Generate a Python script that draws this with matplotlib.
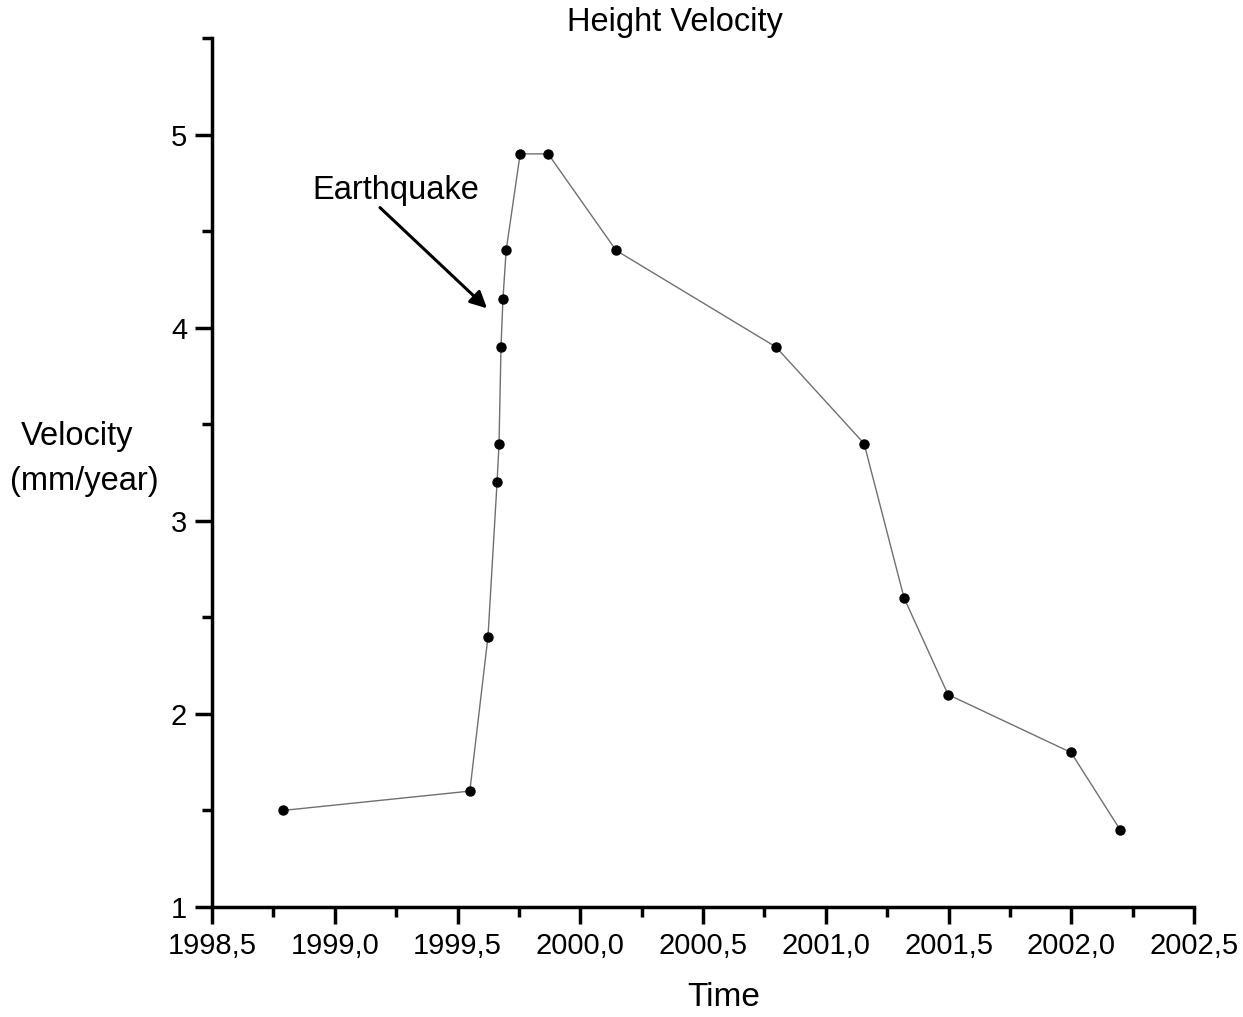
import numpy as np
import matplotlib
matplotlib.use('Agg')
import matplotlib.pyplot as plt
from matplotlib.ticker import MultipleLocator, FuncFormatter

plt.rcParams['font.family'] = ['Liberation Sans', 'DejaVu Sans']

# Height velocity measurements
time = [1998.79, 1999.55, 1999.624, 1999.661, 1999.669, 1999.677, 1999.685,
        1999.698, 1999.755, 1999.869, 2000.146, 2000.797, 2001.156, 2001.319,
        2001.498, 2001.999, 2002.199]
velocity = [1.5, 1.6, 2.4, 3.2, 3.4, 3.9, 4.15, 4.4, 4.9, 4.9, 4.4, 3.9, 3.4,
            2.6, 2.1, 1.8, 1.4]

fig = plt.figure(figsize=(12.43, 10.17), dpi=100)
ax = fig.add_axes([0.1706, 0.1082, 0.79, 0.8544])

ax.plot(time, velocity, '-', color='#707070', linewidth=1.0, zorder=2)
ax.plot(time, velocity, 'o', color='black', markersize=6.5, zorder=3)

ax.set_xlim(1998.5, 2002.5)
ax.set_ylim(1, 5.5)

ax.spines['top'].set_visible(False)
ax.spines['right'].set_visible(False)
ax.spines['left'].set_linewidth(2.5)
ax.spines['bottom'].set_linewidth(2.5)

ax.xaxis.set_major_locator(MultipleLocator(0.5))
ax.xaxis.set_minor_locator(MultipleLocator(0.25))
ax.yaxis.set_major_locator(MultipleLocator(1))
ax.yaxis.set_minor_locator(MultipleLocator(0.5))
ax.xaxis.set_major_formatter(FuncFormatter(lambda v, p: f"{v:.1f}".replace('.', ',')))
ax.yaxis.set_major_formatter(FuncFormatter(lambda v, p: f"{v:.0f}"))
ax.tick_params(which='major', direction='out', length=12, width=2.5, labelsize=21, pad=6)
ax.tick_params(which='minor', direction='out', length=7, width=2.5)

# label and arrow pointing at the onset of the jump
ax.text(1999.25, 4.664, 'Earthquake', fontsize=23.5, ha='center', va='baseline')
ax.annotate('', xy=(1999.62, 4.10), xytext=(1999.184, 4.622),
            arrowprops=dict(arrowstyle='-|>', color='black', lw=2.2,
                            mutation_scale=25, shrinkA=0, shrinkB=0))

fig.text(0.543, 0.978, 'Height Velocity', fontsize=23.5, ha='center', va='center')
fig.text(0.062, 0.571, 'Velocity', fontsize=23.5, ha='center', va='center')
fig.text(0.068, 0.527, '(mm/year)', fontsize=23.5, ha='center', va='center')
fig.text(0.582, 0.019, 'Time', fontsize=24, ha='center', va='center')

fig.savefig('out.png', dpi=100)
